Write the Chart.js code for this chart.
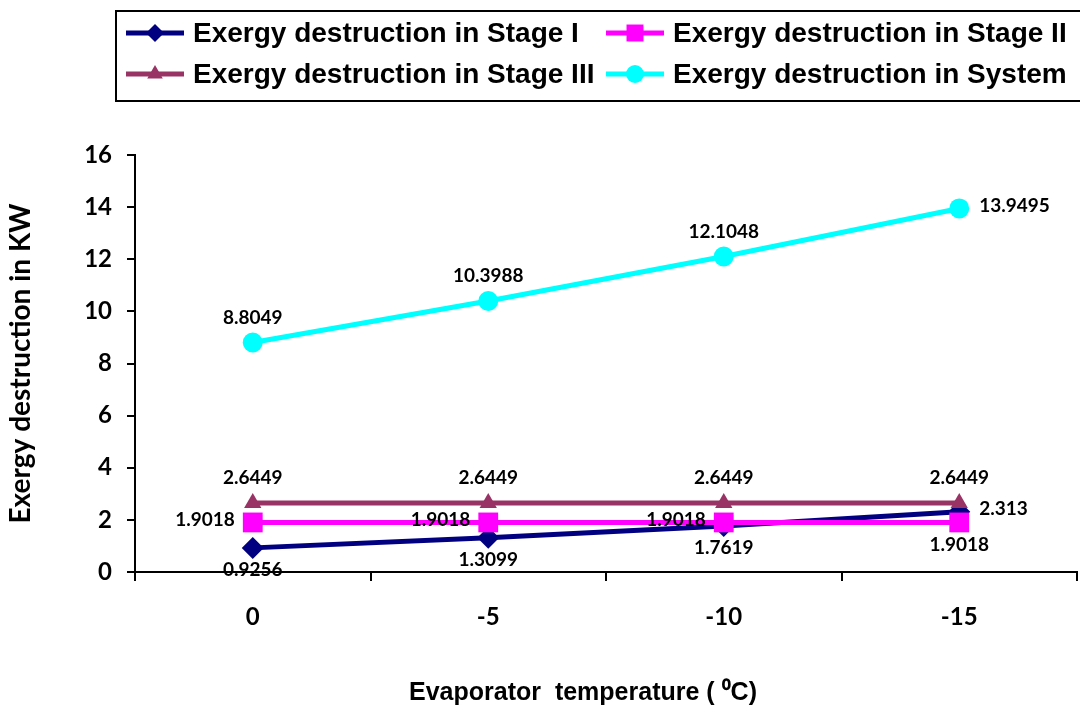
<!DOCTYPE html>
<html>
<head>
<meta charset="utf-8">
<title>Exergy destruction vs evaporator temperature</title>
<script src="https://cdn.jsdelivr.net/npm/chart.js@4/dist/chart.umd.min.js"></script>
<style>
  html, body { margin: 0; padding: 0; background: #ffffff; }
  canvas { display: block; }
</style>
</head>
<body>
<canvas id="chart" width="1080" height="711"></canvas>
<script>
// Evaporator temperatures (°C) on the x axis
const categories = ['0', '-5', '-10', '-15'];

// Exergy destruction (kW) per stage and for the whole system
const stageOne = [0.9256, 1.3099, 1.7619, 2.313];
const stageTwo = [1.9018, 1.9018, 1.9018, 1.9018];
const stageThree = [2.6449, 2.6449, 2.6449, 2.6449];
const systemTotal = [8.8049, 10.3988, 12.1048, 13.9495];

const seriesNames = [
  'Exergy destruction in Stage I',
  'Exergy destruction in Stage II',
  'Exergy destruction in Stage III',
  'Exergy destruction in System'
];

// y axis range and step
const yMin = 0;
const yMax = 16;
const yStep = 2;

const xTitle = 'Evaporator  temperature ( \u2070C)';
const yTitle = 'Exergy destruction in KW';

const TICK_FONT = 'Lato, "Open Sans", sans-serif';
const ARIAL = '"Liberation Sans", Arial, sans-serif';

// Draws one marker shape centred on (x, y)
function drawMarker(ctx, style, x, y, r, color) {
  ctx.save();
  ctx.fillStyle = color;
  ctx.beginPath();
  if (style === 'rectRot') {
    ctx.moveTo(x, y - r); ctx.lineTo(x + r, y); ctx.lineTo(x, y + r); ctx.lineTo(x - r, y);
    ctx.closePath();
  } else if (style === 'rect') {
    const s = r * Math.SQRT1_2;
    ctx.rect(x - s, y - s, 2 * s, 2 * s);
  } else if (style === 'triangle') {
    for (let k = 0; k < 3; k++) {
      const a = -Math.PI / 2 + k * 2 * Math.PI / 3;
      const px = x + Math.cos(a) * r, py = y + Math.sin(a) * r;
      if (k === 0) ctx.moveTo(px, py); else ctx.lineTo(px, py);
    }
    ctx.closePath();
  } else {
    ctx.arc(x, y, r, 0, Math.PI * 2);
  }
  ctx.fill();
  ctx.restore();
}

// Boxed two-column legend at the top of the canvas
const boxedLegend = {
  id: 'boxedLegend',
  afterDraw(chart) {
    const ctx = chart.ctx;
    ctx.save();
    ctx.strokeStyle = '#000000';
    ctx.lineWidth = 2;
    ctx.strokeRect(116, 11, 966, 90);

    const cols = [126, 606];
    const rows = [33, 74];
    chart.data.datasets.forEach((ds, i) => {
      const x0 = cols[i % 2];
      const y0 = rows[Math.floor(i / 2)];
      ctx.strokeStyle = ds.borderColor;
      ctx.lineWidth = 5;
      ctx.beginPath();
      ctx.moveTo(x0, y0);
      ctx.lineTo(x0 + 58, y0);
      ctx.stroke();
      drawMarker(ctx, ds.pointStyle, x0 + 29, y0, ds.legendMarkerRadius, ds.borderColor);
      ctx.fillStyle = '#000000';
      ctx.font = 'bold 28px ' + ARIAL;
      ctx.textAlign = 'left';
      ctx.textBaseline = 'middle';
      ctx.fillText(ds.label, x0 + 67, y0 + 1);
    });
    ctx.restore();
  }
};

// x axis title, drawn below the tick labels
const xAxisTitle = {
  id: 'xAxisTitle',
  afterDraw(chart) {
    const ctx = chart.ctx;
    ctx.save();
    ctx.fillStyle = '#000000';
    ctx.font = 'bold 25px ' + ARIAL;
    ctx.textAlign = 'center';
    ctx.textBaseline = 'middle';
    ctx.fillText(xTitle, 583, 693);
    ctx.restore();
  }
};

// Value labels next to each point, placed per dataset
const valueLabels = {
  id: 'valueLabels',
  afterDatasetsDraw(chart) {
    const ctx = chart.ctx;
    ctx.save();
    ctx.fillStyle = '#000000';
    ctx.font = 'bold 19px ' + TICK_FONT;
    chart.data.datasets.forEach((ds, i) => {
      const meta = chart.getDatasetMeta(i);
      meta.data.forEach((pt, j) => {
        const text = String(ds.data[j]);
        const pos = ds.labelPlacement[j];
        let x = pt.x, y = pt.y;
        ctx.textBaseline = 'middle';
        if (pos === 'above') { ctx.textAlign = 'center'; y -= 25; }
        else if (pos === 'below') { ctx.textAlign = 'center'; y += 22; }
        else if (pos === 'left') { ctx.textAlign = 'right'; x -= 18; y -= 3; }
        else { ctx.textAlign = 'left'; x += 20; y -= 3; }
        ctx.fillText(text, x, y);
      });
    });
    ctx.restore();
  }
};

function buildChart() {
  const ctx = document.getElementById('chart').getContext('2d');
  new Chart(ctx, {
    type: 'line',
    data: {
      labels: categories,
      datasets: [
        {
          label: seriesNames[0], data: stageOne,
          borderColor: '#000080', backgroundColor: '#000080',
          pointStyle: 'rectRot', pointRadius: 11, legendMarkerRadius: 9,
          order: 4,
          labelPlacement: ['below', 'below', 'below', 'right']
        },
        {
          label: seriesNames[1], data: stageTwo,
          borderColor: '#FF00FF', backgroundColor: '#FF00FF',
          pointStyle: 'rect', pointRadius: 14, legendMarkerRadius: 12,
          order: 3,
          labelPlacement: ['left', 'left', 'left', 'below']
        },
        {
          label: seriesNames[2], data: stageThree,
          borderColor: '#993366', backgroundColor: '#993366',
          pointStyle: 'triangle', pointRadius: 10, legendMarkerRadius: 9,
          order: 2,
          labelPlacement: ['above', 'above', 'above', 'above']
        },
        {
          label: seriesNames[3], data: systemTotal,
          borderColor: '#00FFFF', backgroundColor: '#00FFFF',
          pointStyle: 'circle', pointRadius: 10, legendMarkerRadius: 9,
          order: 1,
          labelPlacement: ['above', 'above', 'above', 'right']
        }
      ]
    },
    options: {
      responsive: false,
      animation: false,
      devicePixelRatio: 1,
      elements: {
        line: { borderWidth: 5, tension: 0 },
        point: { borderWidth: 0, hoverRadius: 10 }
      },
      layout: { autoPadding: false, padding: { top: 155, right: 3, bottom: 0, left: 0 } },
      plugins: {
        legend: { display: false },
        tooltip: { enabled: false },
        title: { display: false }
      },
      scales: {
        x: {
          type: 'category',
          offset: true,
          grid: {
            offset: true, drawOnChartArea: false, drawTicks: true,
            tickLength: 9, color: '#000000', lineWidth: 2
          },
          border: { display: true, color: '#000000', width: 2 },
          ticks: {
            color: '#000000', padding: 22,
            font: { family: TICK_FONT, size: 24, weight: 'bold' }
          },
          title: { display: false },
          afterFit(scale) {
            scale.height = 139;
            scale.paddingLeft = 0;
            scale.paddingRight = 0;
          }
        },
        y: {
          min: yMin, max: yMax,
          grid: {
            drawOnChartArea: false, drawTicks: true,
            tickLength: 8, color: '#000000', lineWidth: 2
          },
          border: { display: true, color: '#000000', width: 2 },
          ticks: {
            stepSize: yStep, color: '#000000', padding: 15,
            font: { family: TICK_FONT, size: 24, weight: 'bold' }
          },
          title: {
            display: true, text: yTitle, color: '#000000',
            font: { family: TICK_FONT, size: 28, weight: 'bold' },
            padding: { top: 4, bottom: 0 }
          },
          afterFit(scale) { scale.width = 135; }
        }
      }
    },
    plugins: [valueLabels, boxedLegend, xAxisTitle]
  });
}

const fontLoads = [
  'bold 22px Lato', 'bold 27px "Liberation Sans"'
].map(f => document.fonts.load(f).catch(() => null));
Promise.all(fontLoads).then(buildChart, buildChart);
</script>
</body>
</html>
